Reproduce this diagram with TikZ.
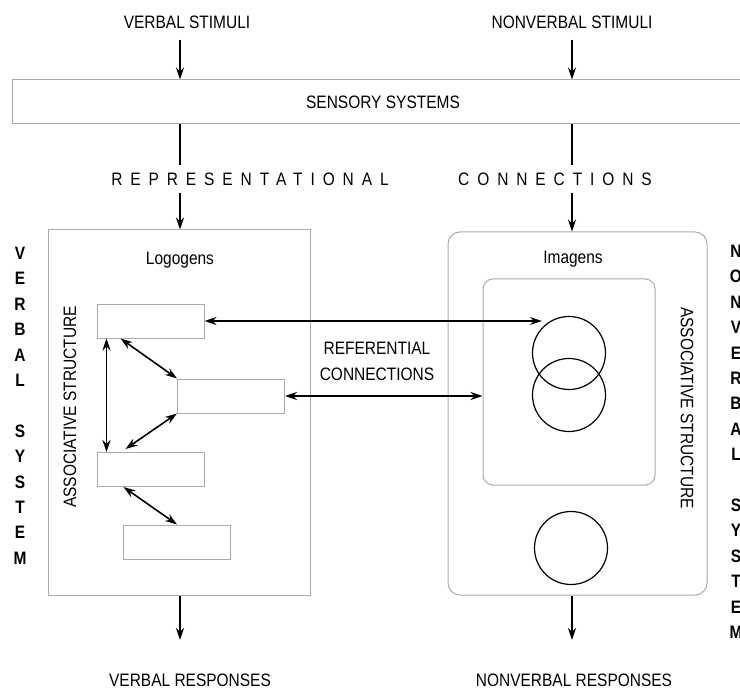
\documentclass[tikz,border=0pt]{standalone}
\usepackage{fontspec}
\setmainfont{Liberation Sans}[FakeStretch=0.86]
\usetikzlibrary{calc,arrows.meta,shapes}
\definecolor{BoxGray}{HTML}{ABABAB}
\tikzset{
    block/.style = {draw=BoxGray, line width=1pt, rectangle, inner sep=0pt},
    rblock/.style = {block, rounded corners=12pt},
    word/.style = {block, minimum height=34pt, minimum width=107pt},
    imagen/.style = {draw, circle, line width=1.2pt, minimum size=73pt, inner sep=0pt},
    txt/.style = {font=\fontsize{18}{22}\selectfont, inner sep=2pt},
    spaced/.style = {font=\fontsize{18}{22}\selectfont\addfontfeature{LetterSpace=44}, inner sep=7pt},
    sysletters/.style = {font=\fontsize{18}{25.4}\selectfont\bfseries, align=center, anchor=north, inner sep=0pt},
    arrow/.style = {draw, line width=1.6pt, -{Stealth[length=12pt,width=8pt]}},
    link/.style = {draw, line width=1.6pt, {Stealth[length=12pt,width=8pt]}-{Stealth[length=12pt,width=8pt]}}
}
\begin{document}
\begin{tikzpicture}[x=1pt,y=-1pt]
    \useasboundingbox (0,0) rectangle (740,690);
    % columns
    \coordinate (vcol) at (180,0);
    \coordinate (ncol) at (572,0);
    % top
    \node[txt] (vstim) at (187,22) {VERBAL STIMULI};
    \node[txt] (nstim) at (572,22) {NONVERBAL STIMULI};
    \node[block, minimum width=738pt, minimum height=44pt] (sens) at (381,102) {};
    \node[txt] (senstext) at (383,102) {SENSORY SYSTEMS};
    \draw[arrow] (180,40) -- (sens.north -| vcol);
    \draw[arrow] (572,40) -- (sens.north -| ncol);
    \node[spaced] (repr) at (250,179) {REPRESENTATIONAL};
    \node[spaced] (conn) at (555,179) {CONNECTIONS};
    \draw[line width=1.6pt] (sens.south -| vcol) -- (vcol |- repr.north);
    \draw[line width=1.6pt] (sens.south -| ncol) -- (ncol |- conn.north);
    % verbal side
    \node[block, minimum width=262pt, minimum height=365pt] (lbox) at (179,412.5) {};
    \draw[arrow] (vcol |- repr.south) -- (lbox.north -| vcol);
    \node[txt] (logo) at (180,260) {Logogens};
    \node[word] (r1) at (150.5,321) {};
    \node[word] (r2) at (231,396) {};
    \node[word] (r3) at (150.5,469.5) {};
    \node[word] (r4) at (177,542) {};
    \draw[link] ([xshift=10pt]r1.south west) -- ([xshift=10pt]r3.north west);
    \draw[link] ([xshift=24pt]r1.south west) -- (r2.north west);
    \draw[link] (r2.south west) -- ([xshift=29pt,yshift=3pt]r3.north west);
    \draw[link] ([xshift=27pt]r3.south west) -- (r4.north);
    \node[txt, rotate=90] (lassoc) at (70,407) {ASSOCIATIVE STRUCTURE};
    \node[sysletters] (vsys) at (20,247) {V\\E\\R\\B\\A\\L\\[25.4pt]S\\Y\\S\\T\\E\\M};
    % nonverbal side
    \node[rblock, minimum width=259pt, minimum height=363pt] (rbox) at (577.5,413.5) {};
    \draw[arrow] (ncol |- conn.south) -- (rbox.north -| ncol);
    \node[txt] (imag) at (573,259) {Imagens};
    \node[rblock, rounded corners=10pt, minimum width=172pt, minimum height=206pt] (inner) at (569,382) {};
    \node[imagen] (c1) at (569,353) {};
    \node[imagen] (c2) at (569,395) {};
    \node[imagen] (c3) at (571,548) {};
    \node[txt, rotate=-90] (rassoc) at (687,408) {ASSOCIATIVE STRUCTURE};
    \node[sysletters] (nsys) at (736,245) {N\\O\\N\\V\\E\\R\\B\\A\\L\\[25.4pt]S\\Y\\S\\T\\E\\M};
    % referential connections
    \node[txt, align=center, font=\fontsize{18}{26}\selectfont] (refc) at (377,361) {REFERENTIAL\\CONNECTIONS};
    \draw[link] (r1.east) -- ([xshift=10pt]r1.east -| c1.west);
    \draw[link] (r2.east) -- (r2.east -| inner.west);
    % responses
    \node[txt] (vresp) at (190,680) {VERBAL RESPONSES};
    \node[txt] (nresp) at (574,680) {NONVERBAL RESPONSES};
    \draw[arrow] (lbox.south -| vcol) -- (180,640);
    \draw[arrow] (rbox.south -| ncol) -- (572,640);
\end{tikzpicture}
\end{document}
